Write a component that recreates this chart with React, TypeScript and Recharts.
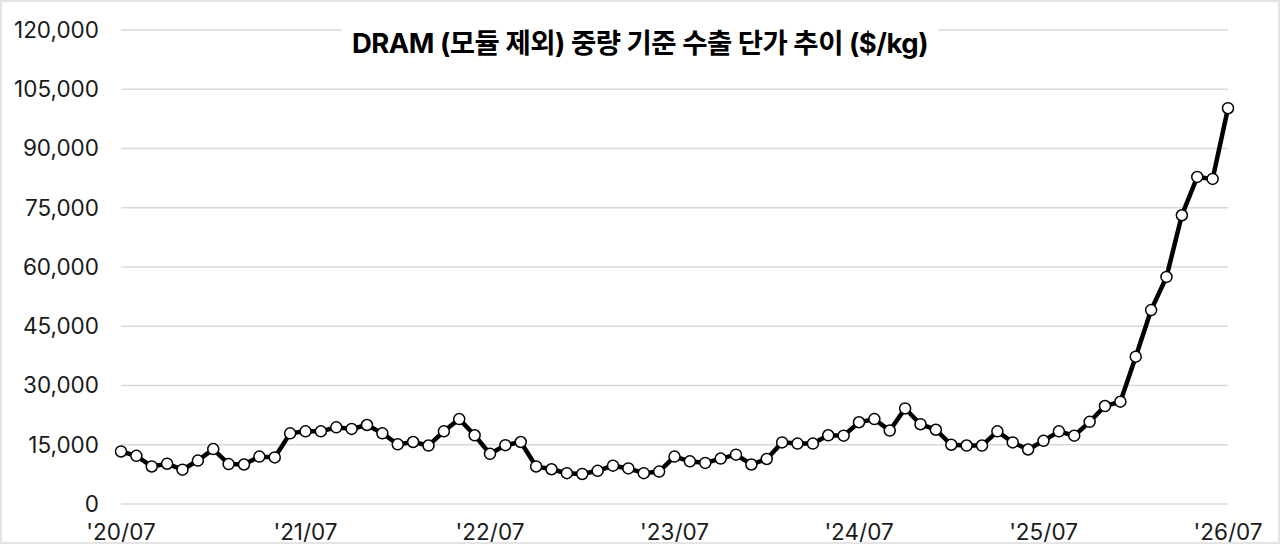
import { LineChart, Line, XAxis, YAxis, CartesianGrid } from "recharts";

// monthly, '20/07 .. '26/07
const startYear = 2020;
const startMonth = 7;
const months: string[] = [];
for (let k = 0; k < 73; k++) {
  const m = startMonth - 1 + k;
  const yy = String((startYear + Math.floor(m / 12)) % 100).padStart(2, "0");
  const mm = String((m % 12) + 1).padStart(2, "0");
  months.push(`'${yy}/${mm}`);
}

const prices = [
  13300, 12200, 9500, 10200, 8700, 11000, 13900, 10100, 10000, 12000, 11800, 17900,
  18400, 18400, 19400, 19000, 20000, 17900, 15100, 15700, 14800, 18400, 21500, 17400,
  12700, 14900, 15700, 9500, 8800, 7800, 7600, 8400, 9700, 9000, 7800, 8200,
  12000, 10800, 10400, 11500, 12500, 10000, 11400, 15600, 15300, 15300, 17400, 17300,
  20700, 21500, 18600, 24200, 20200, 18800, 15000, 14800, 14800, 18400, 15600, 13800,
  16000, 18400, 17300, 20800, 24800, 25900, 37300, 49100, 57500, 73100, 82800, 82300,
  100200,
];

const yTicks = [0, 15000, 30000, 45000, 60000, 75000, 90000, 105000, 120000];

const title = "DRAM (모듈 제외) 중량 기준 수출 단가 추이 ($/kg)";

const data = months.map((m, i) => ({ month: m, price: prices[i] }));

const tickStyle = { fill: "#1a1a1a", fontSize: 22.5, fontFamily: "Inter, 'Noto Sans', sans-serif" };

export default function App() {
  return (
    <div
      style={{
        position: "absolute",
        top: 0,
        left: 0,
        width: 1280,
        height: 544,
        background: "#fff",
        overflow: "hidden",
      }}
    >
      <LineChart
        width={1280}
        height={544}
        data={data}
        margin={{ top: 30, right: 52, bottom: 0, left: 0 }}
      >
        <CartesianGrid vertical={false} stroke="#d9d9d9" strokeWidth={1.5} />
        <XAxis
          dataKey="month"
          interval={11}
          axisLine={false}
          tickLine={false}
          tickSize={0}
          tickMargin={20}
          height={40}
          tick={tickStyle}
        />
        <YAxis
          domain={[0, 120000]}
          ticks={yTicks}
          width={121}
          axisLine={false}
          tickLine={false}
          tickSize={0}
          tickMargin={22}
          tick={tickStyle}
          tickFormatter={(v: number) => v.toLocaleString("en-US")}
        />
        <Line
          type="linear"
          dataKey="price"
          stroke="#000"
          strokeWidth={4.5}
          dot={{ r: 5.5, fill: "#fff", stroke: "#000", strokeWidth: 1.5 }}
          isAnimationActive={false}
        />
      </LineChart>
      <div
        style={{
          position: "absolute",
          left: 0,
          width: 1280,
          top: 23,
          textAlign: "center",
          pointerEvents: "none",
        }}
      >
        <span
          style={{
            display: "inline-block",
            background: "#fff",
            padding: "2px 10px",
            fontFamily: "Inter, 'Noto Sans CJK KR', sans-serif",
            fontWeight: 700,
            fontSize: 27.5,
            lineHeight: "36px",
            color: "#000",
            letterSpacing: -0.5,
          }}
        >
          {title}
        </span>
      </div>
      <div
        style={{
          position: "absolute",
          inset: 0,
          border: "2px solid #e4e4e4",
          pointerEvents: "none",
        }}
      />
    </div>
  );
}
